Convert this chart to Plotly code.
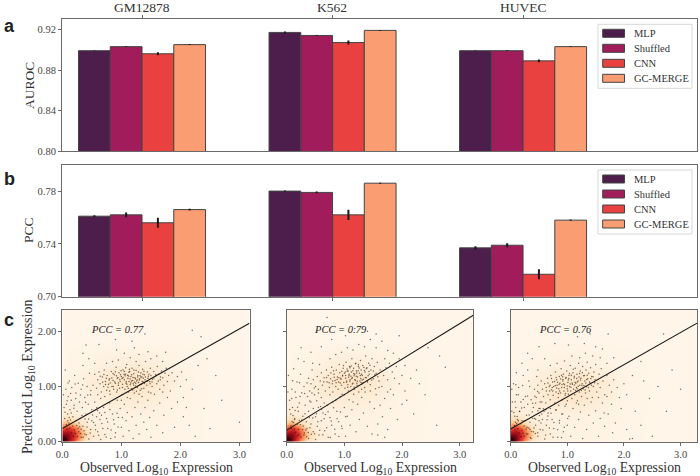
import plotly.graph_objects as go

W, H = 700, 476
cells = ["GM12878", "K562", "HUVEC"]
models = ["MLP", "Shuffled", "CNN", "GC-MERGE"]
colors = ["#4d1e4b", "#a01c5a", "#e8413f", "#fa9d72"]
auroc = {"MLP": [.899, .917, .899], "Shuffled": [.903, .914, .899],
         "CNN": [.896, .907, .889], "GC-MERGE": [.905, .919, .903]}
auroc_err = {"MLP": [.0003, .001, .0003], "Shuffled": [.0003, .0005, .0004],
             "CNN": [.0014, .002, .0013], "GC-MERGE": [.0005, .0004, .0004]}
pcc = {"MLP": [.761, .780, .737], "Shuffled": [.762, .779, .739],
       "CNN": [.756, .762, .717], "GC-MERGE": [.766, .786, .758]}
pcc_err = {"MLP": [.0007, .0005, .0012], "Shuffled": [.0018, .0007, .0015],
           "CNN": [.0038, .0038, .0038], "GC-MERGE": [.0007, .0004, .0005]}

pcc_labels = ["PCC = 0.77", "PCC = 0.79", "PCC = 0.76"]
fit_lines = [([0, 3.17], [.24, 2.145]), ([0, 3.235], [.21, 2.29]), ([0, 3.29], [.23, 2.145])]

grid_x = [0, .04, .08, .12, .18, .25, .35, .5, .8, 1.2, 1.6, 2, 2.5, 3.3]
grid_y = [0, .04, .08, .12, .18, .25, .35, .5, .8, 1.1, 1.4, 1.8, 2.4]
hot_rows = [
    [.78, .82, .72, .62, .50, .36, .20, .08, .05, .03, .02, .01, 0, 0],
    [.95, .98, .86, .74, .60, .42, .24, .10, .05, .03, .02, .01, 0, 0],
    [.92, .92, .84, .76, .64, .48, .27, .11, .05, .03, .02, .01, 0, 0],
    [.82, .82, .80, .76, .66, .50, .30, .12, .05, .03, .02, .01, 0, 0],
    [.68, .70, .72, .70, .62, .48, .28, .11, .04, .03, .02, .01, 0, 0],
    [.50, .54, .58, .56, .50, .40, .22, .09, .04, .03, .02, .01, 0, 0],
    [.28, .30, .32, .30, .26, .22, .12, .06, .04, .03, .02, .01, 0, 0],
]
upper_rows = [
    [[.09, .09, .09, .08, .07, .06, .05, .04, .04, .04, .03, .01, 0, 0],
     [.05, .05, .05, .05, .05, .05, .05, .06, .09, .11, .07, .02, 0, 0],
     [.02, .02, .02, .03, .03, .03, .05, .09, .15, .21, .14, .03, 0, 0],
     [0, 0, 0, .01, .01, .01, .02, .03, .06, .09, .06, .02, 0, 0],
     [0] * 14, [0] * 14],
    [[.09, .09, .09, .08, .07, .06, .05, .04, .04, .04, .03, .01, 0, 0],
     [.05, .05, .05, .05, .05, .05, .06, .07, .10, .10, .06, .02, 0, 0],
     [.02, .02, .02, .03, .03, .03, .06, .09, .16, .20, .11, .02, 0, 0],
     [0, 0, 0, .01, .01, .01, .02, .03, .07, .09, .05, .01, 0, 0],
     [0] * 14, [0] * 14],
    [[.10, .10, .10, .09, .08, .06, .06, .06, .05, .05, .03, .01, 0, 0],
     [.05, .05, .05, .05, .05, .06, .07, .10, .15, .15, .08, .02, 0, 0],
     [.01, .01, .01, .02, .02, .03, .04, .08, .14, .17, .11, .02, 0, 0],
     [0, 0, 0, 0, 0, .01, .01, .02, .04, .05, .03, .01, 0, 0],
     [0] * 14, [0] * 14],
]

c1_points = [
(.52,1.02),(.55,1.22),(.58,.97),(.6,1.12),(.62,1.26),(.64,1.05),(.66,.9),(.68,1.17),(.7,1.0),(.71,1.3),
(.73,1.09),(.75,.93),(.76,1.2),(.78,1.04),(.8,1.14),(.81,.86),(.83,1.27),(.84,1.0),(.86,1.11),(.87,.95),
(.88,1.21),(.9,1.06),(.91,1.35),(.92,.9),(.93,1.15),(.95,1.02),(.96,1.25),(.97,.97),(.98,1.09),(1.0,1.18),
(1.01,.85),(1.02,1.04),(1.03,1.3),(1.05,1.12),(1.06,.95),(1.07,1.22),(1.08,1.06),(1.09,1.4),(1.1,1.0),(1.11,1.15),
(1.12,.9),(1.13,1.09),(1.14,1.27),(1.15,1.03),(1.16,1.18),(1.17,.96),(1.18,1.33),(1.19,1.11),(1.2,1.06),(1.21,1.23),
(1.22,.88),(1.23,1.16),(1.24,1.01),(1.25,1.29),(1.26,1.1),(1.27,.98),(1.28,1.2),(1.29,1.07),(1.3,1.38),(1.31,1.14),
(1.32,.93),(1.33,1.25),(1.34,1.04),(1.35,1.17),(1.36,1.31),(1.37,1.08),(1.38,.97),(1.39,1.21),(1.4,1.12),(1.41,1.45),
(1.43,1.02),(1.44,1.26),(1.45,1.15),(1.46,.9),(1.48,1.09),(1.49,1.33),(1.5,1.2),(1.52,1.0),(1.53,1.13),(1.55,1.27),
(1.56,.86),(1.58,1.19),(1.6,1.05),(1.61,1.36),(1.63,1.22),(1.65,.95),(1.66,1.12),(1.68,1.28),(1.7,1.16),(1.72,1.02),
(1.74,1.24),(1.76,1.33),(1.78,1.09),(1.8,1.2),(1.83,.92),(1.86,1.25),(1.9,1.1),(1.95,1.18),(2.0,1.0),(2.02,1.26),
(.95,1.48),(1.05,1.6),(1.15,1.52),(1.22,1.7),(1.3,1.58),(1.45,1.63),(1.5,1.5),(1.6,1.55),(.85,1.45),(.75,1.42),
(.55,1.42),(1.25,1.45),(1.7,1.45),(.92,1.66),(2.1,1.12),(2.2,.95),(2.05,.8),(2.3,1.38),(2.45,1.5),(2.6,1.2),
(.05,1.3),(.06,.95),(.07,.68),(.09,.5),(.1,.82),(.12,1.1),(.13,.58),(.15,.75),(.16,.98),(.18,.45),(.2,.66),
(.21,1.2),(.23,.88),(.25,.55),(.27,1.06),(.29,.72),(.3,.42),(.32,.95),(.34,.62),(.36,1.14),(.38,.8),(.4,.5),
(.42,1.0),(.44,.68),(.46,1.24),(.48,.85),(.5,.58),(.03,.62),(.02,.85),(.04,.42),(.45,1.5),(.35,1.38),
(.28,.18),(.32,.08),(.35,.28),(.38,.14),(.42,.35),(.45,.05),(.48,.22),(.5,.38),(.53,.1),(.56,.3),(.58,.45),
(.6,.18),(.63,.52),(.65,.04),(.67,.33),(.7,.62),(.72,.13),(.75,.42),(.77,.24),(.8,.7),(.82,.06),(.85,.5),
(.88,.32),(.9,.16),(.93,.75),(.95,.44),(.98,.6),(1.0,.26),(1.03,.1),(1.05,.68),(1.08,.38),(1.1,.53),
(1.13,.2),(1.15,.78),(1.18,.45),(1.2,.06),(1.23,.62),(1.25,.3),(1.28,.72),(1.3,.14),(1.33,.5),(1.35,.82),
(1.38,.35),(1.4,.62),(1.43,.22),(1.45,.75),(1.48,.44),(1.5,.08),(1.55,.56),(1.6,.3),(1.65,.7),(1.7,.16),
(1.72,.48),(1.78,.8),(1.85,.6),(1.9,.26),(1.95,.72),(2.05,.45),(2.15,.3),(2.25,.1),(2.5,.24),(2.1,.62),
(.55,.72),(.6,.85),(.65,.78),(.72,.82),(.8,.92),(1.0,.75),(1.1,.8),(1.3,.86),(1.5,.88),(1.7,.9),
(.35,1.6),(.4,1.75),(.62,1.76),(.9,1.85),(1.18,1.82),(1.75,1.62),(1.4,1.95),(2.2,2.02),(2.35,1.9),(3.0,.35),(2.7,.75),(2.4,.6),
(1.237,1.142),(1.062,1.193),(.887,1.083),(1.318,1.036),(1.127,1.258),(.973,1.127),(1.413,1.086),(1.193,.937),(.812,1.063),(1.552,1.154),
(1.083,1.087),(1.276,1.172),(.746,1.148),(1.364,1.223),(1.018,.982),(1.486,1.047),(.917,1.192),(1.158,1.061),(1.627,1.098),(1.047,1.223),
(1.342,.958),(.683,1.077),(1.213,1.297),(1.118,.967),(.858,1.236),(1.457,1.187),(1.304,1.118),(1.011,1.146),(.934,.938),(1.176,1.212),
(1.391,1.054),(.774,.988),(1.256,.912),(1.073,1.341),(1.518,1.082),(.643,1.186),(1.148,1.134),(.996,1.283),(1.372,1.148),(1.207,1.026),
(.236,.384),(.117,.437),(.321,.227),(.068,.312),(.173,.284),(.408,.128),(.283,.338),(.091,.378),(.367,.196),(.152,.518),
(.254,.092),(.418,.264),(.196,.604),(.334,.476),(.127,.243),(.472,.158),(.047,.533),(.268,.237),(.386,.411),(.221,.148),
(.563,.218),(.614,.117),(.529,.346),(.688,.241),(.743,.087),(.637,.404),(.826,.213),(.768,.356),(.892,.083),(.944,.268),
(1.104,1.203),(1.331,1.171),(.952,1.064),(1.226,1.078),(.838,1.152),(1.467,1.219),(1.029,1.162),(1.289,1.263),(.704,1.217),(1.172,1.098),
(1.408,1.171),(.899,1.268),(1.136,1.312),(1.352,1.092),(.791,1.116),(1.583,1.217),(1.244,1.058),(.986,1.211),(1.094,1.041),(1.446,1.094),
(.862,.998),(1.317,1.196),(1.051,1.269),(1.197,1.162),(.731,1.036),(1.663,1.171),(1.382,1.277),(.943,1.163),(1.121,1.191),(1.268,1.123),
(.157,.163),(.203,.213),(.309,.148),(.243,.292),(.111,.338),(.352,.082),(.189,.097),(.294,.271),(.076,.227),(.139,.392),
(.447,.412),(.513,.483),(.596,.563),(.664,.478),(.721,.527),(.583,.614),(.806,.582),(.869,.396),(.927,.517),(1.017,.436),
(.082,.742),(.141,.873),(.227,.783),(.307,.846),(.394,.716),(.483,.927),(.218,1.043),(.344,1.027),(.096,1.062),(.431,.847),
]
c2_points = [
(.38,1.15),(.42,1.05),(.46,1.12),(.5,1.0),(.53,1.18),(.55,.88),(.58,1.1),(.6,1.25),(.62,1.02),(.65,1.16),
(.67,.92),(.69,1.3),(.7,1.08),(.72,1.2),(.74,.98),(.76,1.14),(.78,1.35),(.79,1.05),(.8,.9),(.82,1.22),
(.84,1.11),(.85,1.0),(.86,1.3),(.88,1.17),(.89,.95),(.9,1.08),(.91,1.4),(.92,1.25),(.94,1.13),(.95,1.02),
(.96,.86),(.97,1.19),(.98,1.33),(.99,1.07),(1.0,1.24),(1.01,.97),(1.02,1.15),(1.03,1.44),(1.04,1.1),(1.05,1.28),
(1.06,1.03),(1.07,.92),(1.08,1.2),(1.09,1.36),(1.1,1.12),(1.11,1.0),(1.12,1.26),(1.13,1.5),(1.14,1.16),(1.15,1.06),
(1.16,1.33),(1.17,.95),(1.18,1.22),(1.19,1.11),(1.2,1.42),(1.21,1.28),(1.22,1.02),(1.23,1.17),(1.24,1.36),(1.25,.9),
(1.26,1.24),(1.27,1.1),(1.28,1.47),(1.29,1.3),(1.3,1.04),(1.31,1.2),(1.32,1.38),(1.33,1.13),(1.35,.98),(1.36,1.26),
(1.37,1.55),(1.38,1.16),(1.39,1.34),(1.4,1.08),(1.42,1.42),(1.43,1.22),(1.45,1.03),(1.46,1.3),(1.48,1.5),(1.5,1.14),
(1.52,1.36),(1.54,.96),(1.55,1.24),(1.57,1.44),(1.6,1.1),(1.62,1.3),(1.65,1.0),(1.68,1.2),(1.7,1.5),(1.72,1.34),
(1.75,1.12),(1.78,1.42),(1.8,.95),(1.83,1.26),(1.87,1.15),(1.9,1.36),(1.95,1.05),(2.0,1.2),(2.05,.92),(2.15,1.15),
(.75,1.5),(.85,1.58),(.95,1.62),(1.05,1.7),(1.15,1.66),(1.25,1.76),(1.35,1.72),(1.45,1.85),(1.55,1.7),(1.65,1.82),
(1.75,1.65),(1.85,1.6),(1.95,1.5),(1.55,1.95),(1.4,2.0),(1.95,1.92),(2.05,1.38),(2.25,1.3),(2.3,1.05),(2.65,1.55),
(.03,1.2),(.05,.75),(.07,.5),(.09,.95),(.1,.62),(.12,1.32),(.14,.42),(.16,.8),(.18,1.08),(.2,.55),(.22,.7),
(.24,1.22),(.26,.88),(.28,.46),(.3,1.0),(.32,.66),(.34,.36),(.36,.82),(.38,.55),(.4,.92),(.42,.72),(.44,1.3),
(.46,.6),(.48,.85),(.5,.45),(.52,.74),(.55,.62),(.57,1.4),(.6,.8),(.45,1.42),(.3,1.45),(.2,1.5),(.02,.9),
(.3,.12),(.35,.24),(.38,.06),(.42,.32),(.46,.18),(.5,.04),(.53,.28),(.56,.12),(.6,.38),(.63,.52),(.66,.2),
(.7,.66),(.72,.08),(.75,.44),(.78,.3),(.8,.72),(.84,.14),(.87,.55),(.9,.36),(.93,.82),(.96,.24),(1.0,.62),
(1.02,.1),(1.05,.46),(1.08,.76),(1.1,.3),(1.13,.58),(1.16,.86),(1.2,.18),(1.23,.68),(1.26,.4),(1.3,.8),
(1.33,.52),(1.36,.9),(1.4,.28),(1.44,.72),(1.48,.14),(1.52,.6),(1.55,.85),(1.58,.32),(1.62,.66),(1.66,.45),
(1.7,.78),(1.75,.22),(1.8,.6),(1.85,.85),(1.92,.4),(2.0,.68),(2.08,.75),(1.7,.08),(1.58,.12),(2.2,.5),
(.55,.95),(.65,.7),(.75,.85),(.85,.75),(1.0,.85),(1.15,.72),(1.3,.95),(1.45,.92),(1.6,.98),(1.75,.9),
(.25,1.7),(.42,1.62),(.6,1.72),(.78,1.85),(1.02,1.92),(1.18,2.05),(.7,2.25),(2.4,.85),(2.6,.3),(2.45,1.7),(2.75,1.35),
(1.163,1.237),(1.047,1.318),(1.284,1.146),(.967,1.203),(1.226,1.094),(1.118,1.372),(1.347,1.287),(.873,1.128),(1.192,1.411),(1.073,1.167),
(1.412,1.193),(.928,1.062),(1.257,1.336),(1.138,1.043),(1.326,1.068),(1.016,1.262),(.812,1.283),(1.473,1.118),(1.208,1.183),(1.093,1.094),
(.736,1.067),(1.384,1.327),(1.172,.984),(.984,1.378),(1.297,1.223),(1.527,1.216),(.643,1.087),(1.238,1.286),(1.056,.987),(1.443,1.382),
(.217,.384),(.108,.473),(.332,.214),(.072,.286),(.184,.317),(.427,.133),(.263,.392),(.094,.364),(.373,.168),(.146,.566),
(.248,.087),(.403,.253),(.188,.622),(.317,.507),(.133,.228),(.484,.142),(.052,.584),(.276,.218),(.392,.436),(.214,.132),
(.573,.206),(.627,.128),(.538,.362),(.694,.254),(.757,.074),(.648,.417),(.833,.226),(.772,.373),(.903,.096),(.952,.283),
(1.113,1.184),(1.276,1.198),(.906,1.158),(1.213,1.243),(1.037,1.077),(1.364,1.163),(.823,1.167),(1.147,1.286),(1.309,1.116),(.954,1.274),
(1.426,1.273),(1.083,1.223),(1.183,1.127),(.767,1.246),(1.244,1.394),(1.022,1.197),(1.338,1.342),(.857,1.067),(1.503,1.282),(1.098,1.338),
(.692,1.163),(1.216,1.058),(1.396,1.097),(.938,1.147),(1.068,1.282),(1.167,1.196),(1.289,1.073),(.797,1.097),(1.581,1.178),(1.127,1.143),
(.152,.171),(.206,.224),(.304,.156),(.238,.306),(.116,.346),(.346,.091),(.194,.108),(.287,.283),(.081,.238),(.136,.404),
(.452,.427),(.517,.506),(.602,.587),(.671,.492),(.716,.544),(.588,.638),(.812,.613),(.874,.414),(.933,.538),(1.022,.453),
(.087,.784),(.147,.902),(.232,.817),(.312,.873),(.398,.738),(.478,.973),(.223,1.068),(.352,1.064),(.102,1.103),(.437,.882),
]
c3_points = [
(.42,.95),(.45,.8),(.48,1.02),(.5,.88),(.52,.72),(.54,1.1),(.56,.95),(.58,.82),(.6,1.05),(.62,.7),
(.63,.92),(.65,1.15),(.66,.85),(.68,1.0),(.7,.76),(.71,1.2),(.72,.94),(.74,1.08),(.75,.84),(.76,1.0),
(.78,.7),(.79,1.26),(.8,.9),(.81,1.12),(.82,1.02),(.84,.8),(.85,.96),(.86,1.18),(.87,1.06),(.88,.88),
(.89,1.32),(.9,.98),(.91,.76),(.92,1.1),(.93,1.22),(.94,.92),(.95,1.03),(.96,.84),(.97,1.15),(.98,.68),
(.99,1.28),(1.0,.96),(1.01,1.07),(1.02,.86),(1.03,1.2),(1.04,1.0),(1.05,1.38),(1.06,.92),(1.07,1.12),(1.08,.78),
(1.09,1.04),(1.1,1.25),(1.11,.95),(1.12,1.16),(1.13,.85),(1.14,1.33),(1.15,1.06),(1.16,.98),(1.17,1.22),(1.18,.74),
(1.19,1.1),(1.2,1.42),(1.21,.9),(1.22,1.02),(1.23,1.28),(1.24,1.15),(1.25,.82),(1.26,1.05),(1.27,1.36),(1.28,.96),
(1.3,1.2),(1.31,1.1),(1.32,.88),(1.33,1.3),(1.34,1.0),(1.35,1.44),(1.36,1.14),(1.38,1.24),(1.39,.92),(1.4,1.06),
(1.41,1.34),(1.43,1.18),(1.44,.8),(1.46,1.0),(1.47,1.26),(1.49,1.12),(1.5,1.4),(1.52,.9),(1.54,1.05),(1.56,1.22),
(1.58,.98),(1.6,1.32),(1.63,1.1),(1.66,.85),(1.7,1.2),(1.74,1.02),(1.78,.9),(1.82,1.12),(1.88,.98),(1.92,.8),
(.7,1.38),(.82,1.42),(.95,1.46),(1.08,1.55),(1.22,1.52),(1.32,1.6),(1.45,1.55),(1.58,1.52),(1.7,1.42),(1.62,1.68),
(.6,1.5),(.48,1.3),(1.02,1.75),(1.3,1.78),(1.5,1.72),(1.82,1.52),(2.0,1.05),(2.05,.85),(2.15,1.2),(2.3,1.45),
(.03,.72),(.05,1.05),(.07,.46),(.09,.62),(.1,.85),(.12,.4),(.14,.98),(.16,.55),(.18,.72),(.2,.38),(.22,1.2),
(.24,.62),(.26,.82),(.28,.48),(.3,.68),(.32,1.1),(.34,.35),(.36,.76),(.38,.54),(.4,.62),(.42,.42),(.44,.7),
(.46,1.18),(.48,.56),(.5,.38),(.52,.6),(.55,.5),(.3,1.3),(.2,1.42),(.1,1.25),(.38,1.5),(.02,.55),(.02,.95),
(.28,.14),(.32,.25),(.36,.06),(.4,.18),(.44,.3),(.48,.1),(.52,.22),(.56,.4),(.6,.05),(.63,.3),(.66,.52),
(.7,.14),(.73,.4),(.76,.24),(.8,.58),(.83,.08),(.86,.34),(.9,.5),(.93,.18),(.96,.64),(1.0,.3),(1.03,.46),
(1.06,.1),(1.1,.6),(1.13,.26),(1.16,.7),(1.2,.4),(1.23,.54),(1.27,.06),(1.3,.66),(1.34,.22),(1.38,.48),
(1.42,.72),(1.46,.34),(1.5,.56),(1.55,.1),(1.58,.42),(1.62,.7),(1.66,.28),(1.72,.5),(1.78,.68),(1.85,.34),
(1.95,.6),(2.05,.22),(2.15,.06),(2.2,.55),(2.45,.78),(2.1,.05),(1.8,.16),(1.65,.52),(2.3,.3),(2.5,.1),
(.55,.72),(.62,.58),(.7,.6),(.85,.66),(1.0,.74),(1.2,.68),(1.35,.78),(1.55,.8),(1.7,.82),(.5,.6),
(.3,1.6),(.5,1.72),(.78,1.78),(1.18,1.9),(1.4,1.95),(1.72,1.95),(2.6,1.0),(2.7,1.95),(2.75,.55),(3.0,.95),(2.85,1.3),(2.35,1.1),
(.937,1.047),(1.063,.987),(.812,.973),(1.176,1.083),(.883,1.137),(1.248,.927),(1.017,1.118),(.743,.918),(1.123,1.183),(.968,.873),
(1.342,1.127),(.694,1.023),(1.207,1.173),(1.084,1.062),(.856,1.038),(1.293,1.016),(1.038,1.237),(.774,1.092),(1.416,1.143),(.916,1.178),
(1.147,.928),(.627,.983),(1.264,1.247),(.998,1.008),(1.372,.976),(.843,.872),(1.103,1.312),(.721,1.144),(1.483,1.068),(1.192,1.003),
(.226,.372),(.113,.458),(.341,.223),(.067,.294),(.178,.327),(.434,.147),(.257,.384),(.086,.352),(.362,.184),(.154,.547),
(.239,.103),(.412,.246),(.193,.608),(.326,.482),(.128,.236),(.476,.163),(.056,.528),(.271,.228),(.387,.424),(.218,.153),
(.568,.213),(.618,.122),(.534,.338),(.683,.247),(.748,.082),(.641,.396),(.829,.218),(.764,.347),(.897,.078),(.947,.262),
(1.027,1.146),(.906,1.037),(1.137,1.078),(.789,1.018),(1.231,1.117),(.864,.917),(1.072,1.203),(1.326,1.063),(.658,1.062),(1.173,.957),
(.978,1.163),(1.288,1.192),(.827,1.078),(1.393,1.082),(1.053,1.043),(.733,.982),(1.216,1.237),(.947,.983),(1.126,1.027),(1.453,1.174),
(.803,1.163),(1.351,1.203),(1.008,.918),(.897,1.204),(1.258,1.018),(.686,.917),(1.164,1.143),(1.427,1.023),(.923,1.127),(1.314,.936),
(.148,.158),(.198,.207),(.302,.141),(.237,.283),(.107,.327),(.348,.078),(.183,.091),(.288,.263),(.073,.218),(.134,.381),
(.441,.406),(.507,.473),(.589,.552),(.657,.464),(.713,.513),(.577,.598),(.798,.571),(.861,.384),(.919,.503),(1.008,.422),
(.078,.723),(.136,.852),(.222,.764),(.298,.828),(.388,.697),(.474,.908),(.211,1.018),(.337,.998),(.091,1.032),(.426,.823),
]
scatter_points = [c1_points, c2_points, c3_points]

xtick_vals = [0, 1, 2, 3]
xtick_text = ["0.0", "1.0", "2.0", "3.0"]
ytick_vals = [0, 1, 2]
ytick_text = ["0.00", "1.00", "2.00"]
heat_scale = [[0, "#fff5e8"], [.1, "#fdecd5"], [.22, "#fde0bb"], [.38, "#fb9f63"],
              [.55, "#e9432f"], [.72, "#b3121d"], [.88, "#5e0510"], [1, "#1a0004"]]

FRAME = "#6a6a6a"
TICK = "#444444"
SERIF = "Liberation Serif"


def dx(a, b):
    return [a / W, b / W]


def dy(top, bottom):
    return [1 - bottom / H, 1 - top / H]


fig = go.Figure()


def add_bars(values, errors, xname, yname):
    for m, c in zip(models, colors):
        fig.add_trace(go.Bar(
            x=[0, 1, 2], y=values[m], name=m, marker=dict(color=c, line=dict(color="#444444", width=1)),
            error_y=dict(type="data", array=errors[m], color="#1a1a1a", thickness=2, width=0),
            xaxis=xname, yaxis=yname, showlegend=False))


add_bars(auroc, auroc_err, "x", "y")
add_bars(pcc, pcc_err, "x2", "y2")

for i in range(3):
    xn, yn = f"x{i + 3}", f"y{i + 3}"
    fig.add_trace(go.Heatmap(x=grid_x, y=grid_y, z=hot_rows + upper_rows[i], colorscale=heat_scale,
                             zmin=0, zmax=1, zsmooth="best", showscale=False, xaxis=xn, yaxis=yn))
    pts = scatter_points[i]
    fig.add_trace(go.Scatter(x=[p[0] for p in pts], y=[p[1] for p in pts], mode="markers",
                             marker=dict(color="rgba(30,20,10,0.6)", size=1.5, line=dict(width=0)),
                             xaxis=xn, yaxis=yn, showlegend=False))
    fig.add_trace(go.Scatter(x=fit_lines[i][0], y=fit_lines[i][1], mode="lines",
                             line=dict(color="#1a1a1a", width=1.1),
                             xaxis=xn, yaxis=yn, showlegend=False))

common = dict(showline=True, linecolor=FRAME, linewidth=1, mirror=True, showgrid=False, zeroline=False,
              ticks="outside", ticklen=3, tickwidth=1, tickcolor=FRAME, automargin=False,
              tickfont=dict(family=SERIF, size=10.5, color=TICK))
bar_x = dict(range=[-.42, 2.913], tickvals=[0, 1, 2], showticklabels=False, **common)

layout = dict(
    width=W, height=H, margin=dict(l=0, r=0, t=0, b=0, autoexpand=False), paper_bgcolor="white", plot_bgcolor="white",
    barmode="group", bargap=1 / 3, bargroupgap=0, showlegend=False, font=dict(family=SERIF),
    xaxis={**bar_x, "domain": dx(62, 697), "anchor": "y", "side": "top"},
    yaxis=dict(domain=dy(19, 151.3), range=[.80, .9302], tickvals=[.80, .84, .88, .92],
               tickformat=".2f", anchor="x", **common),
    xaxis2={**bar_x, "domain": dx(62, 697), "anchor": "y2"},
    yaxis2=dict(domain=dy(164.7, 296.7), range=[.70, .80], tickvals=[.70, .74, .78],
                tickformat=".2f", anchor="x2", **common),
)
panels = [(62.3, 249.5, 3.17), (286.7, 473.3, 3.235), (510.7, 697, 3.29)]
pcc_x = [.93, .94, .96]
annotations = []


def px_note(text, px, py, size=14, angle=0, family=SERIF, color="#333333", xanchor="center"):
    annotations.append(dict(text=text, x=px / W, y=1 - py / H, xref="paper", yref="paper", showarrow=False,
                            xanchor=xanchor, yanchor="middle", textangle=angle,
                            font=dict(family=family, size=size, color=color)))


for cell, px in zip(cells, [142, 332, 523]):
    px_note(cell, px, 7.5, size=13.5)

for i, (l, r, xmax) in enumerate(panels):
    n = i + 3
    layout[f"xaxis{n}"] = dict(domain=dx(l, r), range=[0, xmax], anchor=f"y{n}", tickvals=xtick_vals,
                               ticktext=xtick_text, **common)
    ya = dict(domain=dy(309.7, 441.7), range=[0, 2.39], anchor=f"x{n}", tickvals=ytick_vals,
              ticktext=ytick_text, showticklabels=i == 0, **common)
    layout[f"yaxis{n}"] = ya
    annotations.append(dict(text=f"<i>{pcc_labels[i]}</i>", x=pcc_x[i], y=2.04, xref=f"x{n}", yref=f"y{n}",
                            showarrow=False, font=dict(family=SERIF, size=10.5, color="#222222"),
                            xanchor="center", yanchor="middle"))
    px_note("Observed Log<sub>10</sub> Expression", (l + r) / 2 + 0.5, 468, size=13.8)

px_note("AUROC", 29, 85, angle=-90, size=13.5)
px_note("PCC", 28, 230, angle=-90, size=13.5)
px_note("Predicted Log<sub>10</sub> Expression", 28, 377, angle=-90, size=14)

for letter, py in zip(["a", "b", "c"], [26, 179, 320]):
    px_note(f"<b>{letter}</b>", 1.5, py, size=18, family="Liberation Sans", color="#222222", xanchor="left")

shapes = []
for top in [24.3, 170]:
    shapes.append(dict(type="rect", xref="paper", yref="paper", x0=598 / W, x1=692 / W,
                       y0=1 - (top + 64) / H, y1=1 - top / H, fillcolor="rgba(255,255,255,0.8)",
                       line=dict(color="#d8d8d8", width=1), layer="above"))
    for j, (m, c) in enumerate(zip(models, colors)):
        cy = top + 9 + j * 15
        shapes.append(dict(type="rect", xref="paper", yref="paper", x0=602.7 / W, x1=624.5 / W,
                           y0=1 - (cy + 4) / H, y1=1 - (cy - 4) / H, fillcolor=c,
                           line=dict(color="#444444", width=1), layer="above"))
        px_note(m, 631.5, cy, size=10.5, xanchor="left")

layout["annotations"] = annotations
layout["shapes"] = shapes
fig.update_layout(**layout)
fig.write_html("out.html", config={"displayModeBar": False},
               post_script="document.body.style.margin='0';document.documentElement.style.overflow='hidden';")
